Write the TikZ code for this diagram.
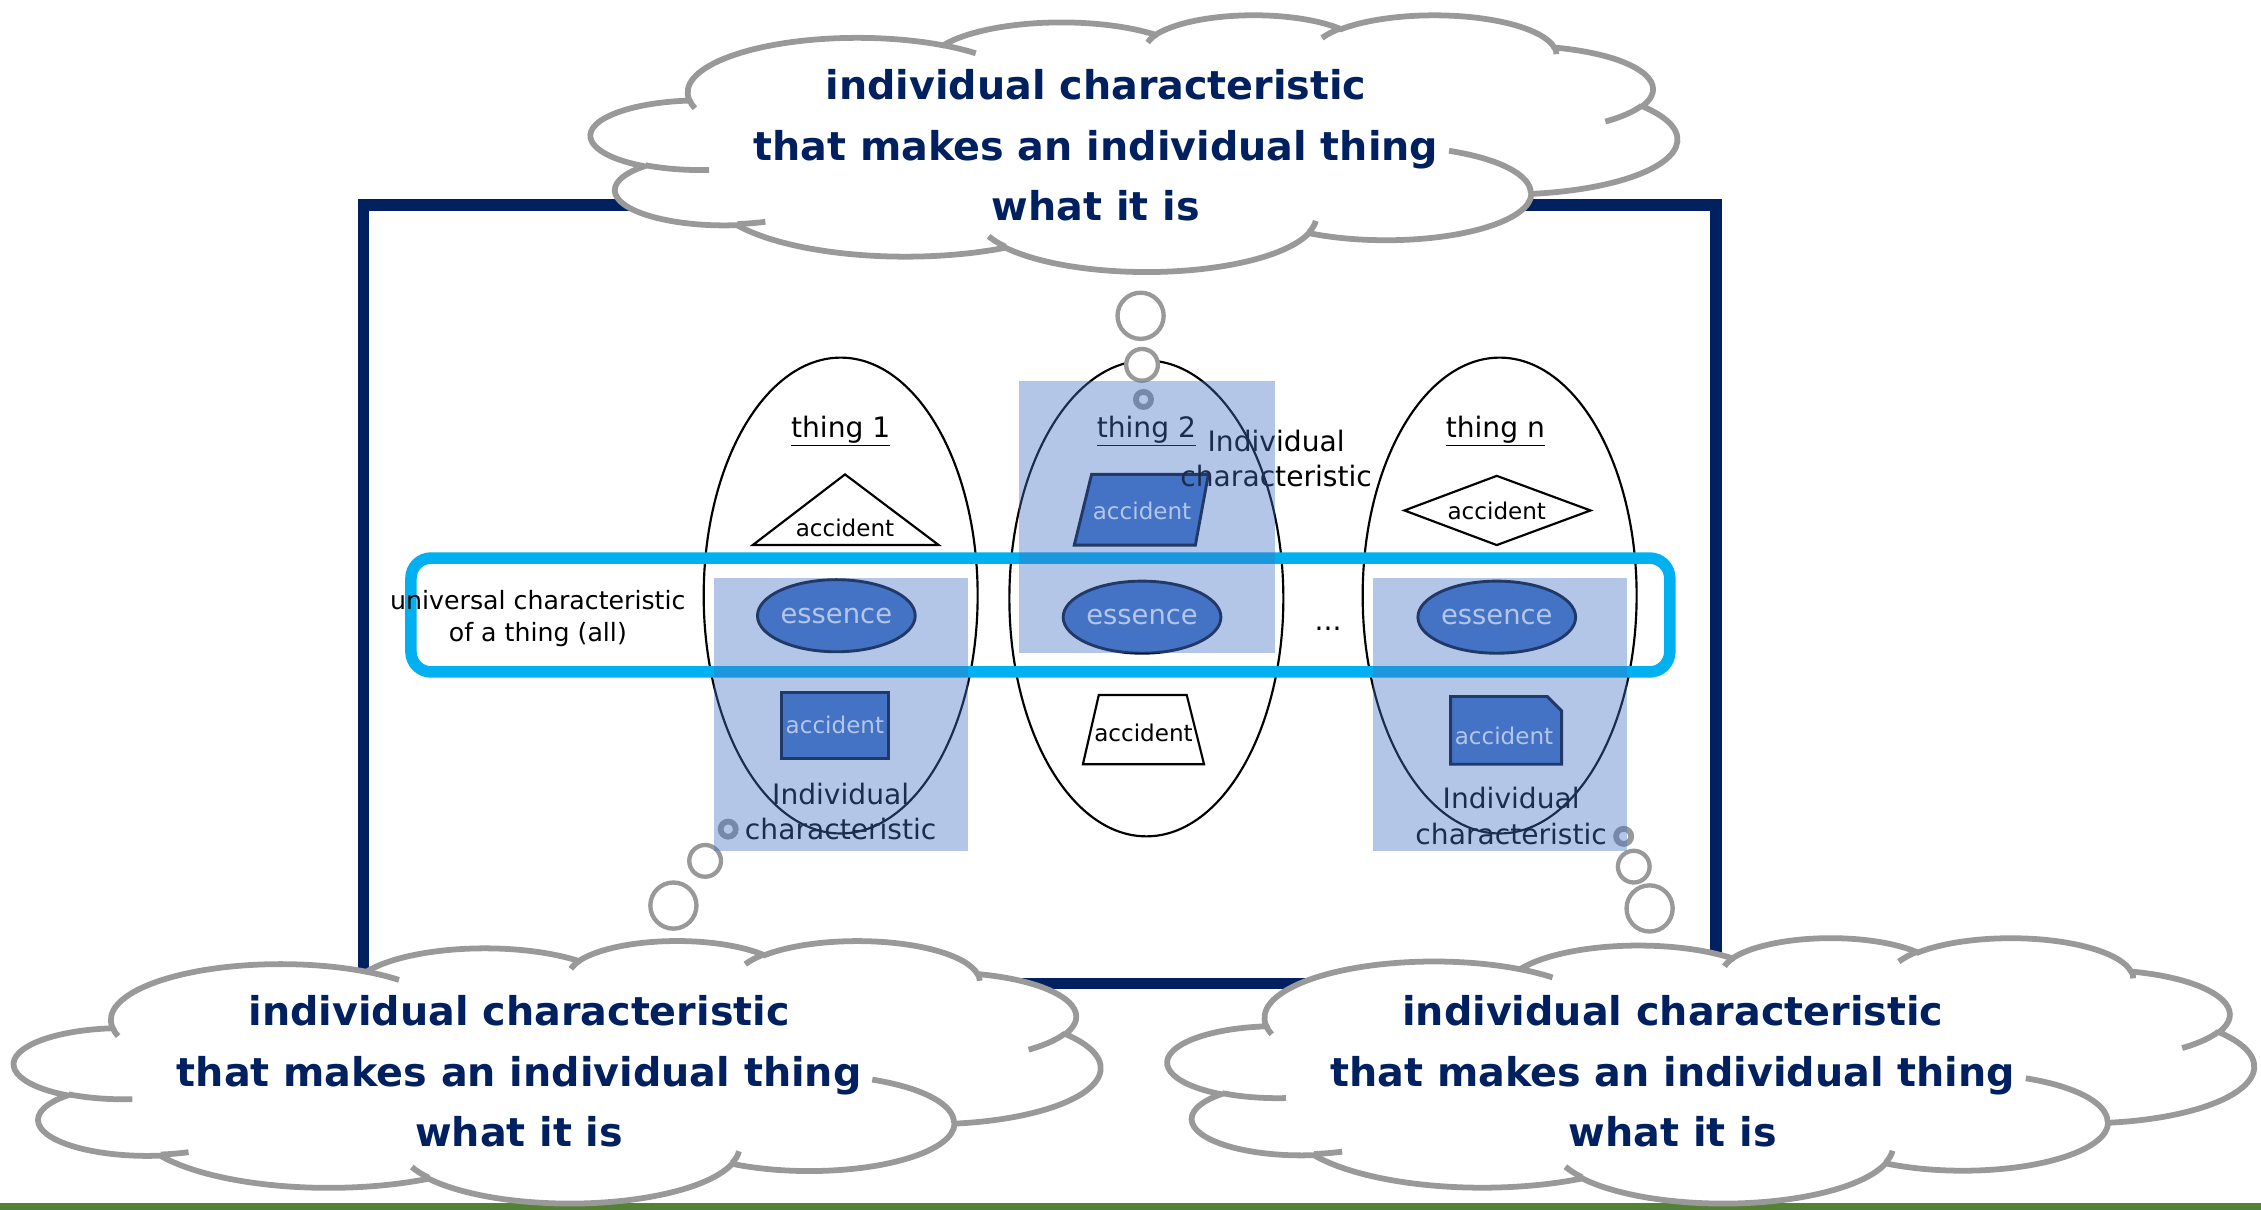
\documentclass[tikz,border=0pt]{standalone}
\usepackage{fontspec}
\setmainfont{DejaVu Sans}
\usetikzlibrary{shapes.geometric}
\definecolor{navy}{HTML}{002060}
\definecolor{cyanb}{HTML}{00B0F0}
\definecolor{accblue}{HTML}{4472C4}
\definecolor{darkb}{HTML}{0B1428}
\definecolor{cgray}{HTML}{999999}
\definecolor{grn}{HTML}{548235}
% elliptical arc given with visual angles (DrawingML arcTo)
\newcommand\pcarc[4]{%
 \pgfextra{%
  \pgfmathparse{atan2((#1)*sin(#3),(#2)*cos(#3))}\xdef\pcA{\pgfmathresult}%
  \pgfmathparse{atan2((#1)*sin((#3)+(#4)),(#2)*cos((#3)+(#4)))}\xdef\pcB{\pgfmathresult}%
  \pgfmathparse{(\pcB<=\pcA)?(\pcB+360):\pcB}\xdef\pcB{\pgfmathresult}%
 }
 arc[x radius=#1, y radius=#2, start angle=\pcA, end angle=\pcB]}
\newcommand\pptcloud[4]{% x0 y0 w h
 \begin{scope}[shift={(#1,#2)}, x=#3pt/43.2, y=-#4pt/43.2]
  \draw[cgray, line width=4pt, fill=white]
   (3.9,14.37) \pcarc{6.753}{9.19}{-190.4875}{123.7805}
   \pcarc{5.333}{7.267}{-144.1024}{89.9452}
   \pcarc{4.365}{5.945}{-145.8079}{99.7230}
   \pcarc{4.857}{6.595}{-130.9861}{117.2417}
   \pcarc{5.333}{7.273}{-78.7089}{109.0269}
   \pcarc{6.775}{9.22}{-46.2673}{130.2690}
   \pcarc{5.785}{7.867}{0.6250}{114.0333}
   \pcarc{6.752}{9.215}{22.4516}{115.1726}
   \pcarc{7.72}{10.543}{66.2426}{75.7110}
   \pcarc{4.36}{5.918}{-274.9421}{146.7356}
   \pcarc{4.345}{5.945}{-246.8285}{152.5189}
   -- cycle;
  \draw[cgray, line width=4pt]
   (4.693,26.177) \pcarc{4.345}{5.945}{86.7420}{26.4295}
   (6.928,34.899) \pcarc{4.36}{5.918}{73.6105}{11.4475}
   (16.478,39.09) \pcarc{6.752}{9.215}{137.6242}{14.0811}
   (28.827,34.751) \pcarc{6.752}{9.215}{6.4533}{15.9984}
   (34.129,22.954) \pcarc{5.785}{7.867}{-70.2924}{70.9174}
   (41.798,15.354) \pcarc{5.333}{7.273}{30.3180}{27.7515}
   (38.324,5.426) \pcarc{4.857}{6.595}{-13.7443}{14.8589}
   (29.078,3.952) \pcarc{4.857}{6.595}{-149.1815}{18.1954}
   (22.141,4.72) \pcarc{4.365}{5.945}{-163.4943}{17.6864}
   (14.0,5.192) \pcarc{6.753}{9.19}{-66.7070}{12.3194}
   (4.127,15.789) \pcarc{6.753}{9.19}{157.6544}{11.8582};
 \end{scope}}
\begin{document}
\begin{tikzpicture}[x=1pt,y=-1pt,
 thing/.style={ellipse, draw=black, line width=1.5pt, minimum width=190pt, minimum height=330pt, inner sep=0},
 lbl/.style={font=\fontsize{19.5}{24.5}\selectfont, inner sep=0, align=center},
 acc/.style={font=\fontsize{16}{19}\selectfont, inner sep=0},
 ess/.style={ellipse, fill=accblue, draw=darkb, line width=2pt, minimum width=94pt, minimum height=50pt, inner sep=0, text=white, font=\fontsize{19}{23}\selectfont},
 blueshape/.style={fill=accblue, draw=darkb, line width=2pt, line join=miter},
 whiteshape/.style={fill=white, draw=black, line width=1.5pt, line join=miter},
 veil/.style={fill=accblue, fill opacity=0.4, draw=none},
 bubble/.style={circle, draw=cgray, line width=3pt, fill=white, inner sep=0},
 tinybubble/.style={circle, draw=cgray, line width=4pt, fill=white, inner sep=0, minimum size=10.5pt},
 cloudtext/.style={font=\fontsize{27.5}{42}\selectfont\bfseries, text=navy, align=center, inner sep=0}
]
\useasboundingbox (0,0) rectangle (1568,839);
\fill[white] (0,0) rectangle (1568,839);
\fill[grn] (0,834) rectangle (1568,839);
% frame
\node[draw=navy, line width=8pt, minimum width=938pt, minimum height=540pt, inner sep=0] (frame) at (721,412) {};
% things
\node[thing] (t1) at (583,413) {};
\node[thing] (t2) at (795,415) {};
\node[thing] (tn) at (1040,413) {};
% universal band
\draw[cyanb, line width=8pt, rounded corners=14pt] (285,387) rectangle (1158,466);
% labels
\node[lbl] (l1) at (583,299) {\underline{thing 1}};
\node[lbl] (l2) at (795,299) {\underline{thing 2}};
\node[lbl] (ln) at (1037,299) {\underline{thing n}};
% thing 1
\draw[whiteshape] (586,329) -- (651,378) -- (522,378) -- cycle;
\node[acc] (a1) at (586,366) {accident};
\node[ess] (e1) at (580,427) {essence};
\node[blueshape, acc, text=white, minimum width=74pt, minimum height=46pt] (b1) at (579,503) {accident};
% thing 2
\draw[blueshape] (757,329) -- (838,329) -- (829,378) -- (745,378) -- cycle;
\node[acc, text=white] (a2) at (792,354) {accident};
\node[ess] (e2) at (792,428) {essence};
\draw[whiteshape] (762,482) -- (823,482) -- (835,530) -- (751,530) -- cycle;
\node[acc] (b2) at (793,508) {accident};
% thing n
\draw[whiteshape] (974,354) -- (1038,330) -- (1103,354) -- (1038,378) -- cycle;
\node[acc] (an) at (1038,354) {accident};
\node[ess] (en) at (1038,428) {essence};
\draw[blueshape] (1006,483) -- (1073,483) -- (1083,493) -- (1083,530) -- (1006,530) -- cycle;
\node[acc, text=white] (bn) at (1043,510) {accident};
% dots
\node[lbl, anchor=base] (dots) at (921,437) {...};
% individual characteristic labels
\node[lbl] (ic1) at (583,563) {Individual\\characteristic};
\node[lbl] (ic2) at (885,318) {Individual\\characteristic};
\node[lbl] (icn) at (1048,566) {Individual\\characteristic};
\node[font=\fontsize{17.5}{22}\selectfont, align=center, inner sep=0] (univ) at (373,429) {universal characteristic\\of a thing (all)};
% bubbles
\node[bubble, minimum size=32pt] (bt1) at (791,219) {};
\node[bubble, minimum size=22pt] (bt2) at (792,253) {};
\node[tinybubble] (bt3) at (793,277) {};
\node[tinybubble] (bl3) at (505,575) {};
\node[bubble, minimum size=22pt] (bl2) at (489,597) {};
\node[bubble, minimum size=32pt] (bl1) at (467,628) {};
\node[tinybubble] (br3) at (1126,580) {};
\node[bubble, minimum size=22pt] (br2) at (1133,601) {};
\node[bubble, minimum size=32pt] (br1) at (1144,630) {};
% veils
\fill[veil] (495,401) rectangle (671,590);
\fill[veil] (707,264) rectangle (884,453);
\fill[veil] (952,401) rectangle (1128,590);
% clouds
\pptcloud{410}{10}{753}{178}
\node[cloudtext] (ttop) at (760,101) {individual characteristic\\that makes an individual thing\\what it is};
\pptcloud{10}{652}{753}{182}
\node[cloudtext] (tleft) at (360,743) {individual characteristic\\that makes an individual thing\\what it is};
\pptcloud{810}{650}{753}{184}
\node[cloudtext] (tright) at (1160,743) {individual characteristic\\that makes an individual thing\\what it is};
\end{tikzpicture}
\end{document}
